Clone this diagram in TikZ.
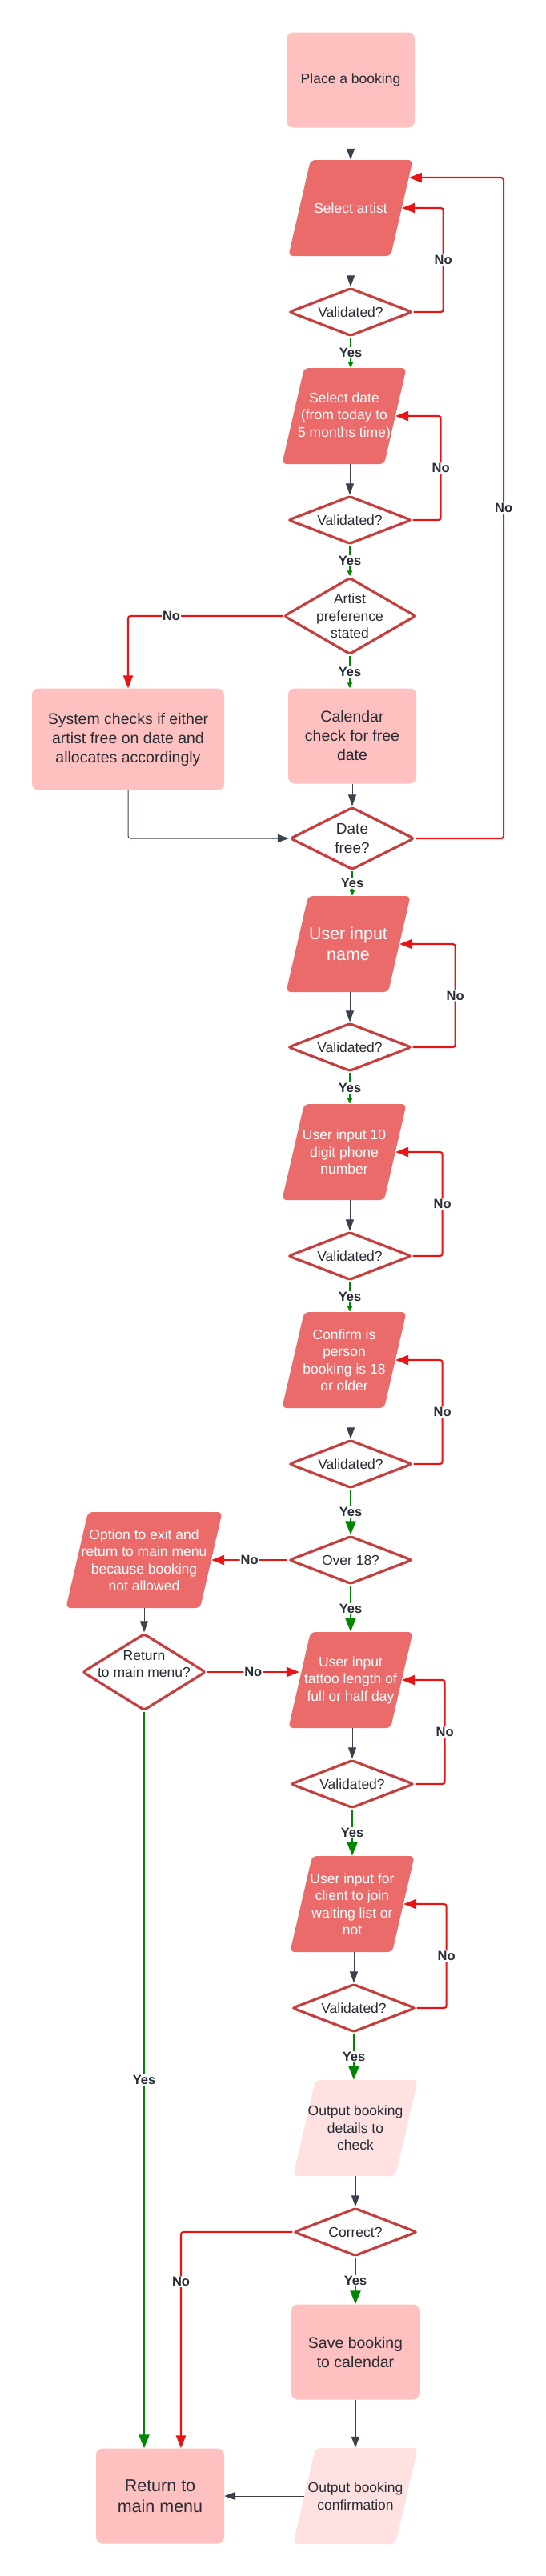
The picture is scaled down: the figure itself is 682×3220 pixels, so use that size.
\documentclass[tikz,border=0pt]{standalone}
\usepackage{fontspec}
\setmainfont{Liberation Sans}
\usetikzlibrary{shapes.geometric,arrows.meta,calc}

\definecolor{boxpink}{RGB}{255,192,192}
\definecolor{iored}{RGB}{235,107,107}
\definecolor{iopale}{RGB}{255,225,225}
\definecolor{decred}{RGB}{197,63,63}
\definecolor{nored}{RGB}{232,20,20}
\definecolor{yesgreen}{RGB}{0,134,0}
\definecolor{txtdark}{RGB}{40,44,52}
\definecolor{linegray}{RGB}{58,65,76}

\begin{document}
\begin{tikzpicture}[x=1pt,y=-1pt,
  proc/.style={rectangle, rounded corners=8pt, fill=boxpink, text=txtdark, align=center, minimum width=160pt, minimum height=119pt, font=\fontsize{19.5}{24}\selectfont},
  io/.style={trapezium, trapezium left angle=77, trapezium right angle=103, inner xsep=50pt, inner ysep=60pt, rounded corners=6pt, fill=iored},
  iolite/.style={io, fill=iopale},
  iotext/.style={align=center, text=white, font=\fontsize{17.5}{21.5}\selectfont},
  iotextdark/.style={iotext, text=txtdark},
  decision/.style={diamond, draw=decred, line width=3.2pt, rounded corners=3pt, fill=white, minimum width=154pt, minimum height=60pt, inner sep=0pt},
  dtext/.style={align=center, text=txtdark, font=\fontsize{17.5}{21.5}\selectfont},
  flow/.style={draw=linegray, line width=1pt, -{Triangle[length=14pt,width=10pt]}},
  noline/.style={draw=nored, line width=2.2pt, rounded corners=3pt, -{Triangle[length=16pt,width=12pt]}},
  yesline/.style={draw=yesgreen, line width=2.2pt, -{Triangle[length=7pt,width=6pt]}},
  yeslong/.style={yesline, -{Triangle[length=17pt,width=13pt]}},
  lbl/.style={fill=white, text=txtdark, inner sep=1pt, font=\bfseries\fontsize{16.5}{18}\selectfont}
]

\useasboundingbox (0,0) rectangle (682,3220);

\node[proc, font=\fontsize{17.5}{21.5}\selectfont] (book) at (438,100) {Place a booking};
\node[io, label={[iotext]center:Select artist}] (artist) at (438,260) {};
\node[decision, label={[dtext]center:Validated?}] (val1) at (438,390) {};

\node[io, label={[iotext]center:Select date\\(from today to\\5 months time)}] (date) at (430,520) {};
\node[decision, label={[dtext]center:Validated?}] (val2) at (437,650) {};
\node[decision, minimum width=165pt, minimum height=96pt, label={[dtext]center:Artist\\preference\\stated}] (pref) at (437,770) {};

\node[proc, minimum width=240pt, minimum height=127pt] (system) at (160,924) {System checks if either\\artist free on date and\\allocates accordingly};
\node[proc] (cal) at (440,920) {Calendar\\check for free\\date};
\node[decision, minimum width=155pt, minimum height=78pt, label={[dtext, font=\fontsize{19}{24}\selectfont]center:Date\\free?}] (free) at (440,1048) {};

\node[io, label={[iotext, font=\fontsize{21.5}{26}\selectfont]center:User input\\name}] (name) at (435,1180) {};
\node[decision, label={[dtext]center:Validated?}] (val3) at (437,1309) {};

\node[io, label={[iotext]center:User input 10\\digit phone\\number}] (phone) at (430,1440) {};
\node[decision, label={[dtext]center:Validated?}] (val4) at (437,1570) {};

\node[io, label={[iotext]center:Confirm is\\person\\booking is 18\\or older}] (age) at (430,1700) {};
\node[decision, label={[dtext]center:Validated?}] (val5) at (438,1830) {};

\node[decision, label={[dtext]center:Over 18?}] (over) at (438,1950) {};
\node[io, inner xsep=70pt, label={[iotext]center:Option to exit and\\return to main menu\\because booking\\not allowed}] (exit) at (180,1950) {};
\node[decision, minimum height=96pt, label={[dtext, yshift=10pt]center:Return\\to main menu?}] (back) at (180,2090) {};

\node[io, label={[iotext]center:User input\\tattoo length of\\full or half day}] (tattoo) at (438,2100) {};
\node[decision, label={[dtext]center:Validated?}] (val6) at (440,2230) {};

\node[io, label={[iotext]center:User input for\\client to join\\waiting list or\\not}] (wait) at (440,2380) {};
\node[decision, label={[dtext]center:Validated?}] (val7) at (442,2510) {};

\node[iolite, label={[iotextdark]center:Output booking\\details to\\check}] (details) at (444,2660) {};
\node[decision, label={[dtext]center:Correct?}] (correct) at (444,2790) {};
\node[proc] (save) at (444,2940) {Save booking\\to calendar};
\node[iolite, label={[iotextdark]center:Output booking\\confirmation}] (confirm) at (444,3120) {};
\node[proc, font=\fontsize{21.5}{26}\selectfont] (menu) at (200,3120) {Return to\\main menu};

\draw[flow] (book) -- (artist);
\draw[flow] (artist.south -| val1.north) -- (val1.north);
\draw[noline] (val1.east) -- ++(37,0) |- node[lbl, pos=0.25] {No} (artist.east);
\draw[yesline] (val1.south) -- node[lbl] {Yes} (val1.south |- date.north);

\draw[flow] (date.south -| val2.north) -- (val2.north);
\draw[noline] (val2.east) -- ++(35,0) |- node[lbl, pos=0.25] {No} (date.east);
\draw[yesline] (val2.south) -- node[lbl] {Yes} (pref.north);

\draw[noline] (pref.west) -| node[lbl, pos=0.36] {No} (system.north);
\draw[yesline] (pref.south) -- node[lbl] {Yes} (pref.south |- cal.north);

\draw[flow] (cal) -- (free);
\draw[flow, rounded corners=3pt] (system.south) |- (free.west);
\draw[noline] (free.east) -- ++(110,0) |- node[lbl, pos=0.25] {No} ($(artist.top right corner)!0.37!(artist.right side)$);
\draw[yesline] (free.south) -- node[lbl] {Yes} (free.south |- name.north);

\draw[flow] (name.south -| val3.north) -- (val3.north);
\draw[noline] (val3.east) -- ++(53,0) |- node[lbl, pos=0.25] {No} (name.east);
\draw[yesline] (val3.south) -- node[lbl] {Yes} (val3.south |- phone.north);

\draw[flow] (phone.south -| val4.north) -- (val4.north);
\draw[noline] (val4.east) -- ++(37,0) |- node[lbl, pos=0.25] {No} (phone.east);
\draw[yesline] (val4.south) -- node[lbl] {Yes} (val4.south |- age.north);

\draw[flow] (age.south -| val5.north) -- (val5.north);
\draw[noline] (val5.east) -- ++(36,0) |- node[lbl, pos=0.25] {No} (age.east);
\draw[yeslong] (val5.south) -- node[lbl] {Yes} (over.north);

\draw[noline] (over.west) -- node[lbl] {No} (exit.east);
\draw[yeslong] (over.south) -- node[lbl] {Yes} (over.south |- tattoo.north);
\draw[flow] (exit.south -| back.north) -- (back.north);
\draw[noline] (back.east) -- node[lbl] {No} (back.east -| tattoo.west);
\draw[yeslong] (back.south) -- node[lbl] {Yes} (back.south |- menu.north);

\draw[flow] (tattoo.south -| val6.north) -- (val6.north);
\draw[noline] (val6.east) -- ++(37,0) |- node[lbl, pos=0.25] {No} (tattoo.east);
\draw[yeslong] (val6.south) -- node[lbl] {Yes} (val6.south |- wait.north);

\draw[flow] (wait.south -| val7.north) -- (val7.north);
\draw[noline] (val7.east) -- ++(37,0) |- node[lbl, pos=0.25] {No} (wait.east);
\draw[yeslong] (val7.south) -- node[lbl] {Yes} (val7.south |- details.north);

\draw[flow] (details.south -| correct.north) -- (correct.north);
\draw[noline] (correct.west) -| node[lbl, pos=0.615] {No} ([xshift=26pt]menu.north);
\draw[yeslong] (correct.south) -- node[lbl] {Yes} (correct.south |- save.north);

\draw[flow] (save) -- (confirm);
\draw[flow] (confirm.west) -- (menu.east);

\end{tikzpicture}
\end{document}
